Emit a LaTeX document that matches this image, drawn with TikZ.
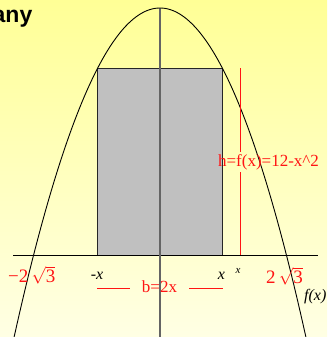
\documentclass[tikz,border=0pt]{standalone}
\usepackage{fontspec}
\setmainfont{Liberation Serif}
\newfontfamily\headfont{Liberation Sans}
\definecolor{bgtop}{RGB}{255,255,150}
\definecolor{bgbot}{RGB}{255,255,228}
\definecolor{rectfill}{RGB}{192,192,192}
\definecolor{axisgray}{RGB}{100,100,100}
\definecolor{lblred}{RGB}{255,20,20}
\begin{document}
\begin{tikzpicture}[x=1pt,y=-1pt,
  curve/.style={black,line width=0.9pt},
  axisline/.style={black,line width=0.9pt},
  yaxisline/.style={axisgray,line width=1.2pt},
  rectbox/.style={fill=rectfill,draw=black!85,line width=0.8pt},
  redline/.style={draw=lblred,line width=1pt},
  redlbl/.style={text=lblred,inner sep=0pt,font=\fontsize{17}{20}\selectfont},
  blklbl/.style={text=black,inner sep=0pt,font=\fontsize{16}{19}\selectfont\itshape}]
\shade[top color=bgtop,bottom color=bgbot] (0pt,0pt) rectangle (327pt,-337pt);
\useasboundingbox (0pt,0pt) rectangle (327pt,-337pt);
% heading fragment
\node[anchor=base east,inner sep=0pt,font=\headfont\bfseries\fontsize{23}{27}\selectfont] (head) at (32.5,23) {any};
% coordinates
\coordinate (xl) at (13,255);
\coordinate (xr) at (318,255);
\coordinate (yt) at (160,8);
\coordinate (yb) at (160,337);
\coordinate (ra) at (97.3,68.7);
\coordinate (rb) at (222.7,255);
% rectangle
\draw[rectbox] (ra) rectangle (rb);
% axes
\draw[axisline] (xl) -- (xr);
\draw[yaxisline] (yt) -- (yb);
% parabola
\draw[curve] plot[domain=-146:146,samples=121,smooth] ({160+\x},{8+247*(\x/126.4)*(\x/126.4)});
% height line and label
\node[redlbl] (hlab) at (268.5,162) {h=f(x)=12-x\^{}2};
\coordinate (h1) at (240.5,68);
\coordinate (h2) at (240.5,152);
\coordinate (h3) at (240.5,172);
\coordinate (h4) at (240.5,255);
\draw[redline] (h1) -- (h2);
\draw[redline] (h3) -- (h4);
% base label
\node[redlbl,anchor=base] (blab) at (159.5,292) {b=2x};
\coordinate (b1) at (97,288.5);
\coordinate (b2) at (130,288.5);
\coordinate (b3) at (189,288.5);
\coordinate (b4) at (223,288.5);
\draw[redline] (b1) -- (b2);
\draw[redline] (b3) -- (b4);
% axis labels
\node[blklbl,anchor=base] (mx) at (97,279) {-x};
\node[blklbl,anchor=base] (px) at (221.5,279) {x};
\node[blklbl,anchor=base,font=\fontsize{11}{13}\selectfont\itshape] (sx) at (238,273) {x};
\node[redlbl,anchor=base west,font=\fontsize{19}{22}\selectfont] (lroot) at (8,282) {\textminus2\,$\sqrt{\mbox{3}}$};
\node[redlbl,anchor=base west,font=\fontsize{19}{22}\selectfont] (rroot) at (266,283) {2\,$\sqrt{\mbox{3}}$};
\node[blklbl,anchor=base west] (fx) at (304,300) {f(x)};
\end{tikzpicture}
\end{document}
